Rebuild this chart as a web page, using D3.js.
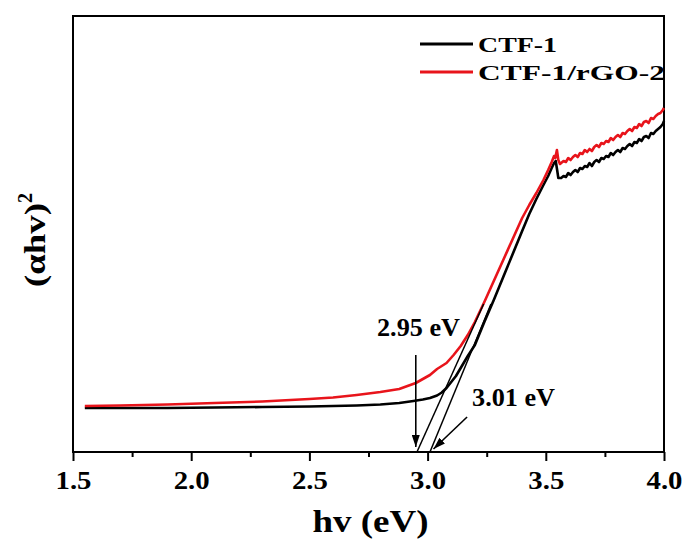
<!DOCTYPE html>
<html><head><meta charset="utf-8">
<script src="https://cdn.jsdelivr.net/npm/d3@7"></script>
<style>
html,body{margin:0;padding:0;background:#fff;}
text{font-family:"Liberation Serif","Times New Roman",serif;font-weight:bold;fill:#000;}
</style></head>
<body><svg id="c" width="687" height="544"></svg>
<script>
// ---- data ----
const xTicks = [1.5, 2.0, 2.5, 3.0, 3.5, 4.0];
const xMinorTicks = [1.75, 2.25, 2.75, 3.25, 3.75];
const seriesNames = ["CTF-1", "CTF-1/rGO-2"];
const seriesColors = ["#000000", "#e8141b"];

const hvBlack = [1.55,1.70,1.90,2.10,2.30,2.50,2.70,2.80,2.88,2.94,2.98,3.01,3.04,3.06,3.08,3.10,3.12,3.14,3.17,3.20,3.24,3.28,3.32,3.36,3.40,3.43,3.46,3.49,3.51,3.525,3.535,3.542,3.548,3.553,
 3.565,3.575,3.585,3.595,3.605,3.615,3.625,3.635,3.645,3.655,3.665,3.675,3.685,3.695,3.705,3.715,3.725,3.735,3.745,3.755,3.765,3.775,3.785,3.795,3.805,3.815,3.825,3.835,3.845,3.855,3.865,3.875,3.885,3.895,3.905,3.915,3.925,3.935,3.945,3.955,3.965,3.975,3.985,3.995,4.0];
const absBlack = [0.46,0.46,0.46,0.465,0.47,0.475,0.485,0.495,0.51,0.53,0.545,0.56,0.585,0.615,0.66,0.72,0.78,0.86,0.98,1.09,1.32,1.54,1.77,2.00,2.23,2.40,2.55,2.69,2.78,2.86,2.91,2.93,2.84,2.76,
 2.76,2.78,2.77,2.81,2.79,2.82,2.84,2.82,2.86,2.85,2.88,2.87,2.91,2.88,2.92,2.94,2.92,2.96,2.95,2.98,2.97,3.01,2.99,3.02,3.04,3.02,3.06,3.05,3.08,3.10,3.08,3.12,3.11,3.15,3.13,3.17,3.18,3.16,3.21,3.20,3.23,3.25,3.27,3.30,3.33];

const hvRed = [1.55,1.70,1.90,2.10,2.30,2.50,2.60,2.70,2.80,2.88,2.95,3.01,3.04,3.08,3.11,3.14,3.17,3.20,3.24,3.28,3.32,3.36,3.40,3.43,3.46,3.49,3.51,3.525,3.535,3.54,3.547,3.553,3.56,
 3.565,3.575,3.585,3.595,3.605,3.615,3.625,3.635,3.645,3.655,3.665,3.675,3.685,3.695,3.705,3.715,3.725,3.735,3.745,3.755,3.765,3.775,3.785,3.795,3.805,3.815,3.825,3.835,3.845,3.855,3.865,3.875,3.885,3.895,3.905,3.915,3.925,3.935,3.945,3.955,3.965,3.975,3.985,3.995,4.0];
const absRed = [0.48,0.485,0.495,0.51,0.525,0.55,0.565,0.59,0.62,0.65,0.71,0.79,0.85,0.91,0.99,1.08,1.19,1.32,1.52,1.73,1.94,2.15,2.36,2.49,2.61,2.74,2.84,2.92,2.98,2.96,3.04,2.94,2.90,
 2.91,2.93,2.92,2.96,2.94,2.97,2.99,2.97,3.01,3.00,3.04,3.02,3.05,3.03,3.07,3.09,3.07,3.11,3.10,3.13,3.12,3.16,3.14,3.17,3.19,3.17,3.21,3.20,3.23,3.25,3.23,3.27,3.26,3.30,3.28,3.32,3.33,3.31,3.36,3.35,3.38,3.40,3.41,3.44,3.46];

// tangent (Tauc) lines: [hv, value] end points
const tangentBlackHv = [3.01, 3.268];
const tangentBlackV = [0.02, 1.5];
const tangentRedHv = [2.955, 3.237];
const tangentRedV = [0.02, 1.5];

// annotations
const annotLabels = ["2.95 eV", "3.01 eV"];
const annotTextHv = [2.786, 3.188];
const annotTextV = [1.18, 0.48];
const arrowFromHv = [2.95, 3.167];
const arrowFromV = [0.99, 0.37];
const arrowToHv = [2.95, 3.025];
const arrowToV = [0.07, 0.05];

// ---- chart ----
const svg = d3.select("#c");
const L = 73, R = 664, T = 16, B = 452;
const x = d3.scaleLinear().domain([1.5, 4.0]).range([L, R]);
const y = d3.scaleLinear().domain([0.02, 4.38]).range([B, T]);

// axis ticks
const xAxis = d3.axisBottom(x).tickValues(xTicks).tickFormat(d3.format(".1f")).tickSize(9).tickPadding(10);
const gx = svg.append("g").attr("transform", `translate(0,${B})`).call(xAxis);
gx.select(".domain").remove();
gx.selectAll(".tick line").attr("stroke", "#000").attr("stroke-width", 2);
gx.selectAll(".tick text").attr("font-size", 26).attr("font-family", '"Liberation Serif",serif')
  .attr("font-weight", "bold").attr("fill", "#000")
  .attr("textLength", 36).attr("lengthAdjust", "spacingAndGlyphs");
const gxm = svg.append("g").attr("transform", `translate(0,${B})`).call(d3.axisBottom(x).tickValues(xMinorTicks).tickFormat("").tickSize(5));
gxm.select(".domain").remove();
gxm.selectAll(".tick line").attr("stroke", "#000").attr("stroke-width", 2);

// frame
svg.append("rect").attr("x", L).attr("y", T).attr("width", R - L).attr("height", B - T)
  .attr("fill", "none").attr("stroke", "#000").attr("stroke-width", 2);

// curves
const line = d3.line().x(d => x(d[0])).y(d => y(d[1])).curve(d3.curveLinear);
const blackData = hvBlack.map((h, i) => [h, absBlack[i]]);
const redData = hvRed.map((h, i) => [h, absRed[i]]);
svg.append("path").datum(blackData).attr("d", line).attr("fill", "none").attr("stroke", seriesColors[0]).attr("stroke-width", 2.6).attr("stroke-linejoin", "round");
svg.append("path").datum(redData).attr("d", line).attr("fill", "none").attr("stroke", seriesColors[1]).attr("stroke-width", 2.6).attr("stroke-linejoin", "round");

// tangents
[[tangentBlackHv, tangentBlackV], [tangentRedHv, tangentRedV]].forEach(([hs, vs]) => {
  svg.append("path").datum(hs.map((h, i) => [h, vs[i]])).attr("d", line)
    .attr("fill", "none").attr("stroke", "#000").attr("stroke-width", 1.5);
});

// arrow marker
svg.append("defs").append("marker").attr("id", "ah").attr("viewBox", "0 0 12 8")
  .attr("refX", 12).attr("refY", 4).attr("markerWidth", 12).attr("markerHeight", 8)
  .attr("markerUnits", "userSpaceOnUse").attr("orient", "auto")
  .append("path").attr("d", "M0,0 L12,4 L0,8 Z").attr("fill", "#000");

arrowFromHv.forEach((h, i) => {
  svg.append("line").attr("x1", x(h)).attr("y1", y(arrowFromV[i]))
    .attr("x2", x(arrowToHv[i])).attr("y2", y(arrowToV[i]))
    .attr("stroke", "#000").attr("stroke-width", 1.6).attr("marker-end", "url(#ah)");
});
annotLabels.forEach((t, i) => {
  svg.append("text").attr("x", x(annotTextHv[i])).attr("y", y(annotTextV[i]))
    .attr("font-size", 26).attr("textLength", 83).attr("lengthAdjust", "spacingAndGlyphs").text(t);
});

// legend
const legendWidths = [79, 187];
seriesNames.forEach((n, i) => {
  const ly = 44 + i * 28;
  svg.append("line").attr("x1", 420).attr("x2", 473).attr("y1", ly).attr("y2", ly)
    .attr("stroke", seriesColors[i]).attr("stroke-width", 3);
  svg.append("text").attr("x", 478).attr("y", ly + 8).attr("font-size", 22)
    .attr("textLength", legendWidths[i]).attr("lengthAdjust", "spacingAndGlyphs").text(n);
});

// axis titles
svg.append("text").attr("x", (L + R) / 2 + 2).attr("y", 532).attr("text-anchor", "middle")
  .attr("font-size", 32).attr("textLength", 116).attr("lengthAdjust", "spacingAndGlyphs").text("hv (eV)");
const yl = svg.append("text").attr("transform", `translate(45,240) rotate(-90)`)
  .attr("text-anchor", "middle").attr("font-size", 30);
yl.append("tspan").attr("textLength", 84).attr("lengthAdjust", "spacingAndGlyphs").text("(αhv)");
yl.append("tspan").attr("font-size", 20).attr("dy", -13).text("2");
</script></body></html>
